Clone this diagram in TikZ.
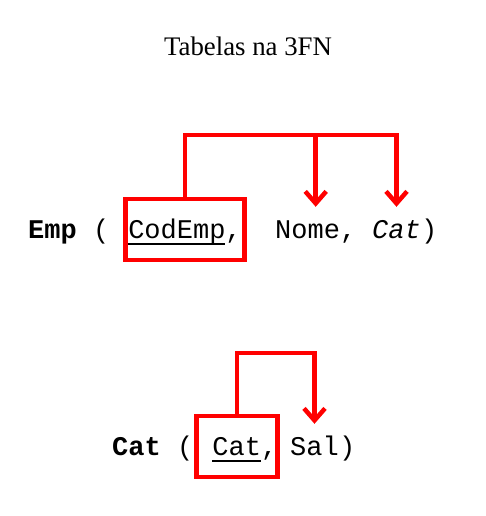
\documentclass[tikz,border=0pt]{standalone}
\usepackage{fontspec}
\setmainfont{Liberation Serif}
\newfontfamily\codefont{Liberation Mono}
\usetikzlibrary{arrows.meta}
\newcommand{\keyline}[1]{\setbox0\hbox{#1}\rlap{\rule[-7pt]{\wd0}{1.6pt}}\box0}
\begin{document}
\begin{tikzpicture}[x=1pt,y=1pt,
  code/.style={inner sep=0pt, anchor=base west, font=\codefont\fontsize{27}{30}\selectfont},
  target/.style={code, text height=20pt},
  keybox/.style={code, draw=red, line width=4.5pt, inner xsep=3pt, inner ysep=2pt, text height=37pt, text depth=20pt},
  link/.style={red, line width=4.5pt},
  fd/.style={link, -{Straight Barb[length=12pt,width=21pt]}, shorten >=11pt}]
\useasboundingbox (0,0) rectangle (486,-516);
\node[anchor=base, font=\fontsize{26.8}{30}\selectfont] (title) at (248,-56) {Tabelas na 3FN};
\begin{scope}
\node[code] (eName) at (28,-238) {\bfseries Emp};
\node[code] (eOpen) at (93,-238) {(};
\node[keybox] (kEmp) at (123,-238) {\keyline{CodEmp},};
\node[target] (eNome) at (275,-238) {Nome,};
\node[target] (eCat) at (372,-238) {\itshape Cat};
\node[code] (eClose) at (421,-238) {)};
\coordinate (eBus) at (0,-135);
\draw[fd] (kEmp.north) |- (eCat.north |- eBus) -- (eCat.north);
\draw[fd] (eNome.north |- eBus) -- (eNome.north);
\end{scope}
\begin{scope}
\node[code] (cName) at (112,-455) {\bfseries Cat};
\node[code] (cOpen) at (177,-455) {(};
\node[keybox, inner xsep=0pt] (kCat) at (194,-455) {\hphantom{x}\keyline{Cat},};
\node[target] (cSal) at (290,-455) {Sal};
\node[code] (cClose) at (339,-455) {)};
\coordinate (cBus) at (0,-353);
\draw[fd] (kCat.north) |- (cSal.north |- cBus) -- (cSal.north);
\end{scope}
\end{tikzpicture}
\end{document}
